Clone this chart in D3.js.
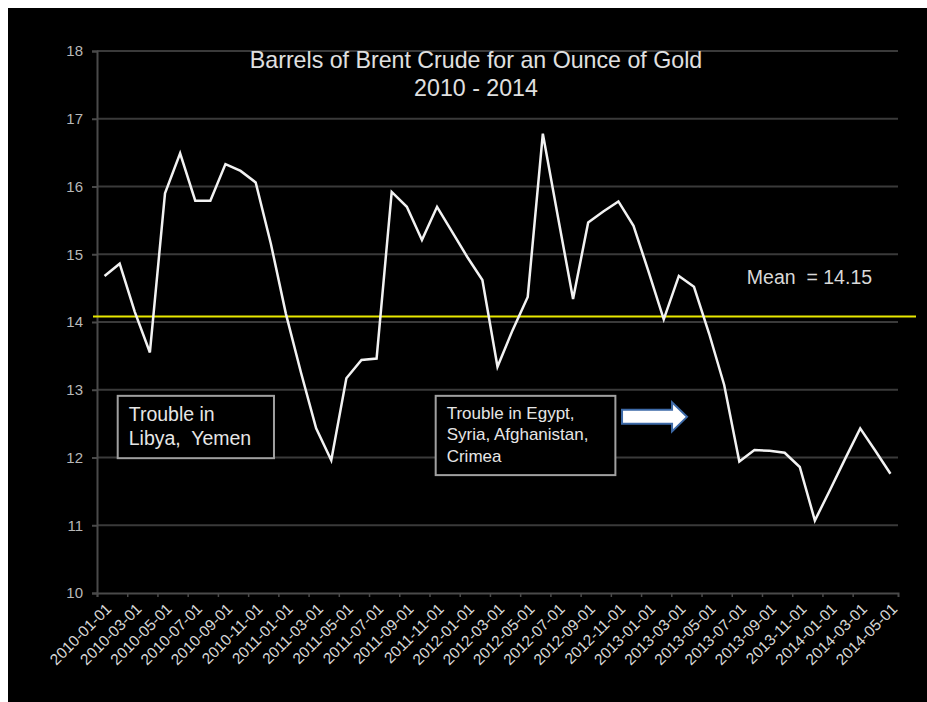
<!DOCTYPE html>
<html>
<head>
<meta charset="utf-8">
<script src="https://cdn.jsdelivr.net/npm/d3@7"></script>
<style>
  body { margin: 0; background: #fff; }
  text { font-family: "Liberation Sans", Arial, sans-serif; }
</style>
</head>
<body>
<svg id="chart" width="927" height="702"></svg>
<script>
// barrels of brent per ounce of gold, monthly 2010-01 .. 2014-05
var ratio = [
  14.68, 14.86, 14.15, 13.55, 15.90, 16.49, 15.79, 15.79, 16.33, 16.23, 16.06, 15.16,
  14.12, 13.25, 12.43, 11.96, 13.17, 13.44, 13.46, 15.92, 15.70, 15.21, 15.70, 15.33,
  14.96, 14.62, 13.34, 13.88, 14.37, 16.78, 15.55, 14.34, 15.47, 15.63, 15.78, 15.42,
  14.74, 14.04, 14.68, 14.52, 13.83, 13.07, 11.94, 12.11, 12.10, 12.07, 11.86, 11.07,
  11.52, 11.98, 12.43, 12.10, 11.76
];

var xLabels = [
  "2010-01-01", "2010-03-01", "2010-05-01", "2010-07-01", "2010-09-01", "2010-11-01",
  "2011-01-01", "2011-03-01", "2011-05-01", "2011-07-01", "2011-09-01", "2011-11-01",
  "2012-01-01", "2012-03-01", "2012-05-01", "2012-07-01", "2012-09-01", "2012-11-01",
  "2013-01-01", "2013-03-01", "2013-05-01", "2013-07-01", "2013-09-01", "2013-11-01",
  "2014-01-01", "2014-03-01", "2014-05-01"
];

var yTicks = [10, 11, 12, 13, 14, 15, 16, 17, 18];
var meanValue = 14.08;
var meanLabel = "Mean  = 14.15";
var titleLines = ["Barrels of Brent Crude for an Ounce of Gold", "2010 - 2014"];

// text boxes, placed in data units (month index, ratio)
var notes = [
  { lines: ["Trouble in", "Libya,  Yemen"], x0: 1.37, x1: 11.71, y0: 12.91, y1: 11.99, size: 19.5, step: 24, first: 25 },
  { lines: ["Trouble in Egypt,", "Syria, Afghanistan,", "Crimea"], x0: 22.41, x1: 34.3, y0: 12.91, y1: 11.74, size: 17, step: 21.5, first: 23 }
];

var svg = d3.select("#chart");

svg.append("rect")
  .attr("x", 8).attr("y", 8)
  .attr("width", 919).attr("height", 694)
  .attr("fill", "#000");

var x = d3.scaleLinear().domain([0, ratio.length]).range([97, 898]);
var y = d3.scaleLinear().domain([10, 18]).range([593, 51]);

// gridlines
svg.append("g")
  .selectAll("line")
  .data(yTicks.slice(1))
  .enter().append("line")
  .attr("x1", x(0)).attr("x2", x(ratio.length))
  .attr("y1", function(d) { return y(d); })
  .attr("y2", function(d) { return y(d); })
  .attr("stroke", "#3a3a3a")
  .attr("stroke-width", 2);

// y axis
var yAxis = svg.append("g")
  .attr("transform", "translate(" + x(0) + ",0)")
  .call(d3.axisLeft(y).tickValues(yTicks).tickSize(5).tickPadding(9).tickFormat(d3.format("d")));
yAxis.select(".domain").attr("stroke", "#4a4a4a").attr("stroke-width", 2);
yAxis.selectAll(".tick line").attr("stroke", "#4a4a4a").attr("stroke-width", 2);
yAxis.selectAll(".tick text")
  .attr("fill", "#b8b8b8")
  .style("font-size", "15px")
  .style("font-family", "'Liberation Sans', Arial, sans-serif");

// x axis, tick every second month
var xAxis = svg.append("g")
  .attr("transform", "translate(0," + y(10) + ")")
  .call(d3.axisBottom(x).tickValues(d3.range(0, ratio.length - 1, 2)).tickSize(4).tickFormat(""));
xAxis.select(".domain").attr("stroke", "#4a4a4a").attr("stroke-width", 2);
xAxis.selectAll(".tick line").attr("stroke", "#4a4a4a").attr("stroke-width", 1.5);

svg.append("g")
  .selectAll("text")
  .data(xLabels)
  .enter().append("text")
  .attr("transform", function(d, k) {
    return "translate(" + (x(2 * k + 0.5) + 4) + "," + (y(10) + 13) + ") rotate(-45)";
  })
  .attr("text-anchor", "end")
  .attr("dy", ".35em")
  .attr("fill", "#d6d6d6")
  .style("font-size", "15.5px")
  .text(function(d) { return d; });

// mean line
svg.append("line")
  .attr("x1", x(0) - 4).attr("x2", 916)
  .attr("y1", y(meanValue)).attr("y2", y(meanValue))
  .attr("stroke", "#e8e800")
  .attr("stroke-width", 2);

svg.append("text")
  .attr("x", x(43)).attr("y", y(14.56))
  .attr("fill", "#d9d9d9")
  .style("font-size", "19.5px")
  .style("white-space", "pre")
  .text(meanLabel);

// series
var line = d3.line()
  .x(function(d, i) { return x(i + 0.5); })
  .y(function(d) { return y(d); });

svg.append("path")
  .datum(ratio)
  .attr("d", line)
  .attr("fill", "none")
  .attr("stroke", "#f2f2f2")
  .attr("stroke-width", 2.5)
  .attr("stroke-linejoin", "miter");

// title
svg.append("g")
  .selectAll("text")
  .data(titleLines)
  .enter().append("text")
  .attr("x", 476)
  .attr("y", function(d, i) { return 68 + i * 28; })
  .attr("text-anchor", "middle")
  .attr("fill", "#e0e0e0")
  .style("font-size", "23.2px")
  .text(function(d) { return d; });

// annotation boxes
notes.forEach(function(n) {
  var g = svg.append("g");
  g.append("rect")
    .attr("x", x(n.x0)).attr("y", y(n.y0))
    .attr("width", x(n.x1) - x(n.x0))
    .attr("height", y(n.y1) - y(n.y0))
    .attr("fill", "#000")
    .attr("stroke", "#a0a0a0")
    .attr("stroke-width", 2);
  g.selectAll("text")
    .data(n.lines)
    .enter().append("text")
    .attr("x", x(n.x0) + 11)
    .attr("y", function(d, i) { return y(n.y0) + n.first + i * n.step; })
    .attr("fill", "#e6e6e6")
    .style("font-size", n.size + "px")
    .style("white-space", "pre")
    .text(function(d) { return d; });
});

// arrow pointing at the 2013 drop
var ax0 = x(34.74), ax1 = x(38.05), ax2 = x(39.04), ay = y(12.6);
svg.append("path")
  .attr("d", "M" + ax0 + "," + (ay - 7) + "L" + ax1 + "," + (ay - 7) + "L" + ax1 + "," + (ay - 14.5) +
    "L" + ax2 + "," + ay + "L" + ax1 + "," + (ay + 14.5) + "L" + ax1 + "," + (ay + 7) +
    "L" + ax0 + "," + (ay + 7) + "Z")
  .attr("fill", "#ffffff")
  .attr("stroke", "#3d6aa8")
  .attr("stroke-width", 2)
  .attr("stroke-linejoin", "miter");
</script>
</body>
</html>
